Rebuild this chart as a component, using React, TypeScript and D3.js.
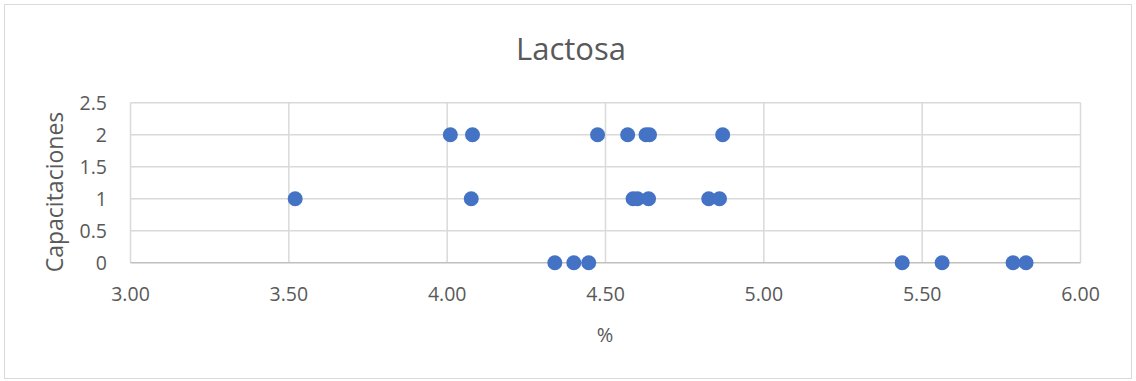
import React from "react";
import * as d3 from "d3";

const title = "Lactosa";
const xLabel = "%";
const yLabel = "Capacitaciones";
const xTicks = [3.0, 3.5, 4.0, 4.5, 5.0, 5.5, 6.0];
const yTicks = [0, 0.5, 1, 1.5, 2, 2.5];
const lactosa = [
  4.01, 4.08, 4.475, 4.57, 4.628, 4.639, 4.87,
  3.52, 4.076, 4.587, 4.601, 4.636, 4.826, 4.86,
  4.34, 4.4, 4.447, 5.437, 5.563, 5.787, 5.828,
];
const capacitaciones = [
  2, 2, 2, 2, 2, 2, 2,
  1, 1, 1, 1, 1, 1, 1,
  0, 0, 0, 0, 0, 0, 0,
];

const W = 1136;
const H = 381;
const FONT = "'Open Sans', sans-serif";
const TXT = "#595959";

export default function App() {
  const x = d3.scaleLinear().domain([3, 6]).range([130.5, 1080.5]);
  const y = d3.scaleLinear().domain([0, 2.5]).range([262.7, 102.7]);
  const fmtX = d3.format(".2f");
  const fmtY = (v: number) => String(v);
  return (
    <svg
      width={W}
      height={H}
      style={{ position: "absolute", left: 0, top: 0, background: "#fff" }}
    >
      <rect x={4.5} y={4.5} width={1127} height={374} fill="#fff" stroke="#d9d9d9" />
      <text x={571} y={60} textAnchor="middle" fontFamily={FONT} fontSize={31} fill={TXT}>
        {title}
      </text>
      {xTicks.map((t) => (
        <line key={"gx" + t} x1={x(t)} x2={x(t)} y1={y(2.5)} y2={y(0)} stroke="#d9d9d9" strokeWidth={1.5} />
      ))}
      {yTicks.map((t) => (
        <line key={"gy" + t} x1={x(3)} x2={x(6)} y1={y(t)} y2={y(t)} stroke={t === 0 ? "#bfbfbf" : "#d9d9d9"} strokeWidth={1.5} />
      ))}
      {xTicks.map((t) => (
        <text key={"tx" + t} x={x(t)} y={301} textAnchor="middle" fontFamily={FONT} fontSize={19.5} fill={TXT}>
          {fmtX(t)}
        </text>
      ))}
      {yTicks.map((t) => (
        <text key={"ty" + t} x={107} y={y(t) + 7} textAnchor="end" fontFamily={FONT} fontSize={19.5} fill={TXT}>
          {fmtY(t)}
        </text>
      ))}
      <text x={605} y={342} textAnchor="middle" fontFamily={FONT} fontSize={20} fill={TXT}>
        {xLabel}
      </text>
      <text
        transform="translate(63,192) rotate(-90)"
        textAnchor="middle"
        fontFamily={FONT}
        fontSize={23}
        fill={TXT}
      >
        {yLabel}
      </text>
      {lactosa.map((v, i) => (
        <circle key={"p" + i} cx={x(v)} cy={y(capacitaciones[i])} r={7.5} fill="#4472C4" />
      ))}
    </svg>
  );
}
